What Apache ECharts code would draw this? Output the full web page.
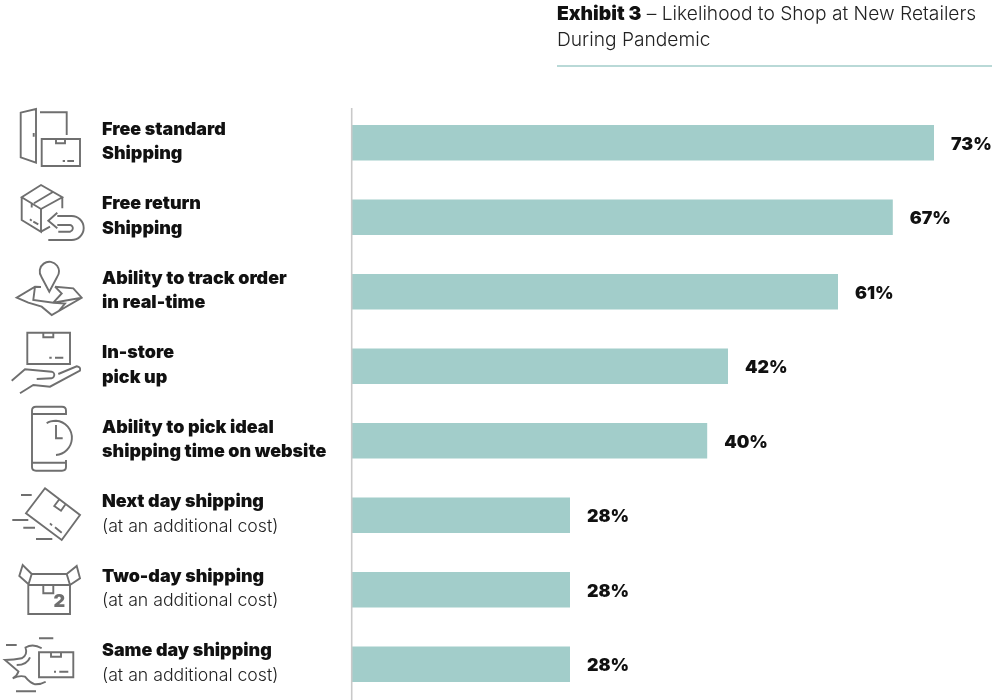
<!DOCTYPE html>
<html><head><meta charset="utf-8">
<style>html,body{margin:0;padding:0;background:#fff}#c{width:1000px;height:700px}</style>
<script src="https://cdn.jsdelivr.net/npm/echarts@6/dist/echarts.min.js"></script>
</head><body><div id="c"></div>
<script>
const labelLine1 = ['Free standard','Free return','Ability to track order','In-store','Ability to pick ideal','Next day shipping','Two-day shipping','Same day shipping'];
const labelLine2 = ['Shipping','Shipping','in real-time','pick up','shipping time on website','(at an additional cost)','(at an additional cost)','(at an additional cost)'];
const line2IsLight = [false,false,false,false,false,true,true,true];
// Values as printed next to each bar.
const printedValues = [73,67,61,42,40,28,28,28];
// Bar lengths as actually drawn in the reference (it is not strictly proportional to the printed values).
const drawnLengths = [72.75,67.6,60.75,47,44.4,27.25,27.25,27.25];
const titleBold = 'Exhibit 3';
const titleLine1 = ' – Likelihood to Shop at New Retailers';
const titleLine2 = 'During Pandemic';

const TEAL = '#a2cdca', ICON = '#6f6f6f';
const BOLD = 'Inter', LIGHT = 'Inter';

const iconPaths = [
 'M20.7,112.7L36,109V162.7L20.7,157.3ZM33.7,133V136.7M40,112.3H66.7V135M41.7,139H80V166H41.7ZM56,139V143.3H65V139M62.7,161H65M67.3,161H74',
 'M41,185L62.3,197.3L41,209L21.7,197.3ZM21.7,197.3V220L41,231.7V209M62.3,197.3V208.3M41,231.7L50,226.7M34,203.3L53.3,191.7M31.7,203.5V207.5M30,219.3L31.7,220.7M33.3,221.7L38.3,224.3M57.3,212.7L48.3,220.7L57.3,228.3M57.3,216H71.7A12,12 0 0 1 71.7,240H48.3M57.3,225H70A3.4,3.4 0 0 1 70,231.7H58.3',
 'M49.3,291.7L41.5,277A9.6,9.6 0 1 1 57.1,277ZM41,287L35,286.7L16.7,297.7L28.3,302.7L41.7,306.7L51.7,315L81.7,297.7L73.3,288.3L55,286.7M35,286.7L33.3,300L53.3,302.7L81.7,297.7M55,286.7L61.7,293.5L53.3,302.7M53.3,302.7L65,303.5L58.3,311.5',
 'M27.3,332.7H70V364H27.3ZM43.3,332.7V337.3H53.3V332.7M49.3,357.7H51.7M55,357.7H63.3M11.7,380.7L25,369.3L51.7,371.7A3.4,3.4 0 0 1 51.7,378.3L36.7,379M58.3,374L76.7,366.3Q81,367,80,370.5L50,386.7L33.3,385L20,393.3',
 'M66,415V410.5Q66,406.7 62,406.7H36Q32,406.7 32,410.5V467Q32,470.7 36,470.7H62Q66,470.7 66,467V460M32,414H66M32,462.7H66M46.7,423.3Q50,420.7 56,420.7A17.2,17.2 0 0 1 56,455M56,425V438.3H62.7',
 'M45,488.3L80,515L61.7,540L26,513.3ZM59.3,499.3L54.3,506L61,510.7L65.7,504M50,523.3L52,525.3M55,527.3L61.7,532.7M21,495H31.7M12.3,520H28.3M23.3,527.7H35M36,539H52.3',
 'M28.3,585H70V614H28.3ZM28.3,585L31.7,574H66.7L70,585M31.7,574L22.7,565L19.3,576L28.3,584M66.7,574L76.7,566L80,578.3L70,585M43.3,585V593.3H53.3V585',
 'M39,652.3H73.3V677.3H39ZM51,652.3V656.7H61V652.3M54,671.7H56M59.3,671.7H68.3M6,645H16.7M39,638.3H53.3M16,691.3H36M41.7,648.3Q33,643 25.5,647.5Q28,655 21.7,658.3Q14,660 5,660L18.5,671.5Q17,676 12.7,678.3Q20,675 25,676.7Q30,683 35,684.3Q41,684.5 45.7,681.7M16.7,665Q27,665 30,657.3'
];

const chart = echarts.init(document.getElementById('c'), null, {renderer:'canvas'});
chart.setOption({
  animation:false,
  backgroundColor:'#fff',
  title:{
    left:557, top:1.5, padding:0,
    text:`{b|${titleBold}}{l|${titleLine1}}\n{l|${titleLine2}}`,
    textStyle:{rich:{
      b:{fontFamily:BOLD,fontWeight:900,fontSize:19.3,color:'#111',lineHeight:25.5},
      l:{fontFamily:LIGHT,fontWeight:300,fontSize:19.2,color:'#222',lineHeight:25.5}
    }}
  },
  grid:{left:352,top:105.5,width:640,height:596,outerBoundsMode:'none'},
  xAxis:{type:'value',min:0,max:80,show:false},
  yAxis:{
    type:'category',inverse:true,
    data:labelLine1,
    axisLine:{show:false},axisTick:{show:false},
    axisLabel:{
      interval:0,margin:250,align:'left',padding:[0,0,2,0],
      formatter:(v,i)=>`{b|${labelLine1[i]}}\n{${line2IsLight[i]?'l':'b'}|${labelLine2[i]}}`,
      rich:{
        b:{fontFamily:BOLD,fontWeight:900,fontSize:17.9,color:'#111',lineHeight:24.3,align:'left'},
        l:{fontFamily:LIGHT,fontWeight:300,fontSize:17.7,color:'#222',lineHeight:24.3,align:'left'}
      }
    }
  },
  series:[{
    type:'bar',barWidth:35.5,
    data:drawnLengths,
    itemStyle:{color:TEAL},
    label:{show:true,position:'right',distance:17,offset:[0,1.5],
      formatter:p=>printedValues[p.dataIndex]+'%',
      fontFamily:BOLD,fontWeight:900,fontSize:17.8,color:'#111'}
  }],
  graphic:{elements:[
    {type:'line',silent:true,z:6,shape:{x1:351.7,y1:108,x2:351.7,y2:700},style:{stroke:'#c9c9c9',lineWidth:1.6}},
    {type:'line',silent:true,shape:{x1:557,y1:66,x2:992,y2:66},style:{stroke:TEAL,lineWidth:1.6}},
    {type:'text',silent:true,z:5,x:53.5,y:593,style:{text:'2',fontFamily:BOLD,fontWeight:900,fontSize:18,fill:ICON}}
  ]}
});
// Decorative line icons, drawn on the chart's own renderer.
const zr = chart.getZr();
iconPaths.forEach(d => zr.add(echarts.graphic.makePath(d, {silent:true, z:5, style:{stroke:ICON,lineWidth:1.9,fill:'none'}})));
</script></body></html>
